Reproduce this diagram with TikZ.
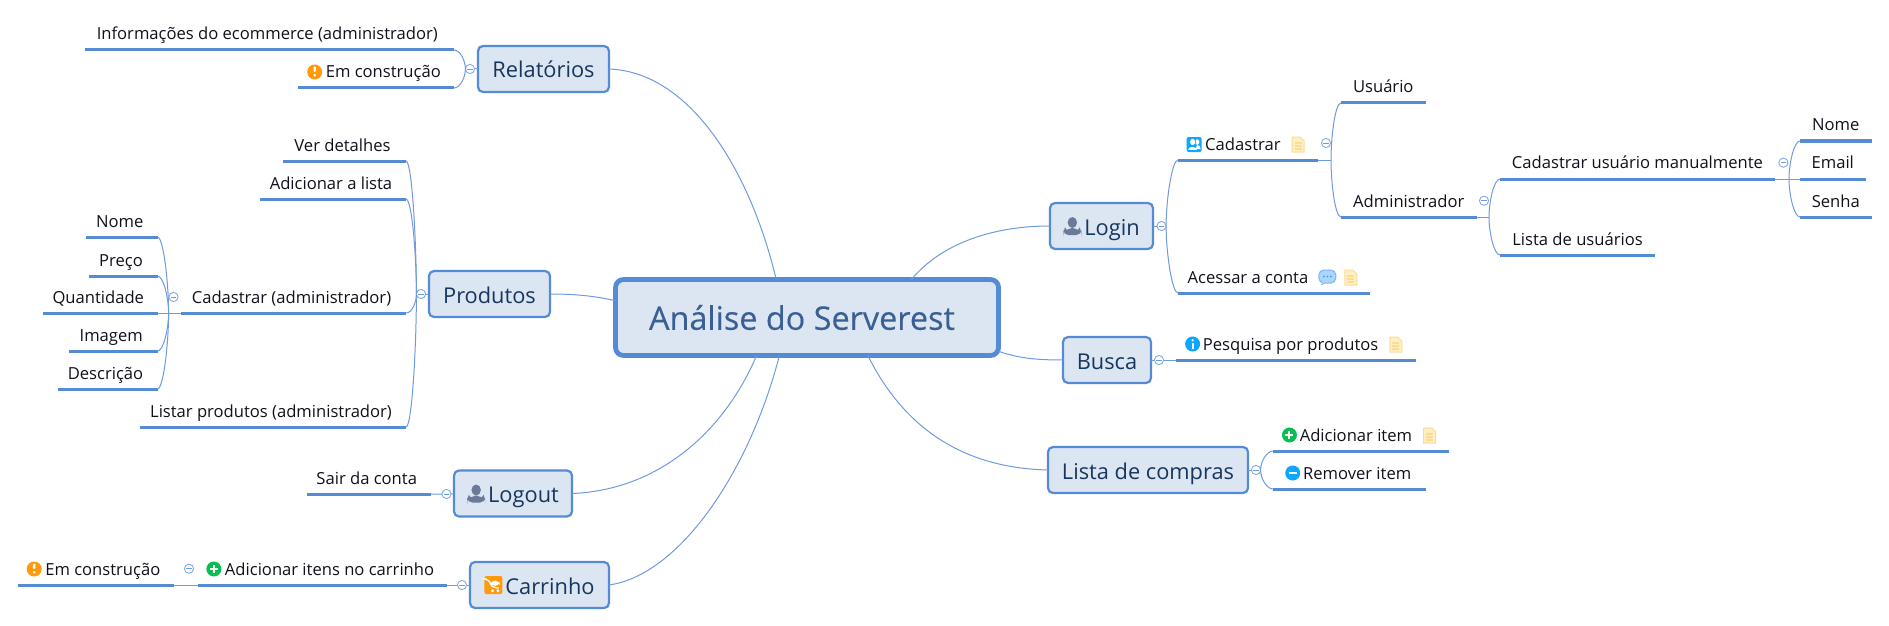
\documentclass[tikz,border=0pt]{standalone}
\usepackage{fontspec}
\setmainfont{Open Sans}
\newfontfamily\rootfont[FakeBold=0.3]{Open Sans}
\usetikzlibrary{positioning}

\definecolor{linecol}{HTML}{558AD5}
\definecolor{thincol}{HTML}{6F9ADE}
\definecolor{fillcol}{HTML}{DCE6F2}
\definecolor{roottext}{HTML}{3A5F95}
\definecolor{maintext}{HTML}{17365D}
\definecolor{leaftext}{HTML}{10101C}
\definecolor{personcol}{HTML}{6B7A99}
\definecolor{warncol}{HTML}{FF9A0A}
\definecolor{pluscol}{HTML}{08BE50}
\definecolor{bluecol}{HTML}{0CA8FF}
\definecolor{notefill}{HTML}{FFF0C4}
\definecolor{notedraw}{HTML}{FBDC94}
\definecolor{talkfill}{HTML}{AAD6FC}
\definecolor{talkdraw}{HTML}{78B6F4}
\definecolor{talkdots}{HTML}{3F9CF6}

% little pictures that stand inside the texts, drawn in pixels
\newcommand{\warnicon}{\tikz[x=.5pt,y=.5pt,baseline=0pt]{\fill[warncol] (7.5,6) circle (7.5);
  \fill[white,rounded corners=.5pt] (6.3,6) rectangle (8.7,11.5); \fill[white] (7.5,2.8) circle (1.4);}}
\newcommand{\plusicon}{\tikz[x=.5pt,y=.5pt,baseline=0pt]{\fill[pluscol] (7.5,6) circle (7.5);
  \fill[white] (3.5,5) rectangle (11.5,7); \fill[white] (6.5,2) rectangle (8.5,10);}}
\newcommand{\minusicon}{\tikz[x=.5pt,y=.5pt,baseline=0pt]{\fill[bluecol] (7.5,6) circle (7.5);
  \fill[white] (3.5,5) rectangle (11.5,7);}}
\newcommand{\infoicon}{\tikz[x=.5pt,y=.5pt,baseline=0pt]{\fill[bluecol] (7.5,6) circle (7.5);
  \fill[white] (6.5,1.5) rectangle (8.5,7.5); \fill[white] (7.5,9.7) circle (1.3);}}
\newcommand{\noteicon}{\tikz[x=.5pt,y=.5pt,baseline=0pt]{\filldraw[fill=notefill,draw=notedraw,line width=.5pt] (0,-2) -- (12,-2) -- (12,9) -- (8,13) -- (0,13) -- cycle;
  \foreach \ly in {1,4,7}{\draw[notedraw,line width=.7pt] (2.5,\ly) -- (9.5,\ly);}}}
\newcommand{\talkicon}{\tikz[x=.5pt,y=.5pt,baseline=0pt]{\fill[talkdraw] (3,2) -- (2.5,-2.5) -- (8,1) -- cycle;
  \filldraw[fill=talkfill,draw=talkdraw,line width=.5pt,rounded corners=2.5pt] (0,0) rectangle (17,13);
  \fill[talkfill] (3.5,1) -- (3.3,-1) -- (6.5,1) -- cycle;
  \foreach \lx in {5,8.5,12}{\fill[talkdots] (\lx,6.5) circle (1);}}}
\newcommand{\cardicon}{\tikz[x=.5pt,y=.5pt,baseline=0pt]{\fill[bluecol,rounded corners=1pt] (0,-2) rectangle (15,13);
  \fill[white] (10.5,8) ellipse (2.2 and 2.8); \fill[white] (9,1) -- (14,1) .. controls (14,4) and (12.5,4.8) .. (10.5,5) -- cycle;
  \fill[bluecol] (6,8) ellipse (3.3 and 3.9);
  \fill[white] (6,8) ellipse (2.5 and 3.1); \fill[bluecol] (1,-.5) rectangle (11,.5);
  \fill[white] (1.5,.5) .. controls (1.5,4.5) and (10.5,4.5) .. (10.5,.5) -- cycle;}}
\newcommand{\personicon}{\tikz[x=.5pt,y=.5pt,baseline=0pt]{\fill[personcol] (9,12.5) ellipse (4.7 and 5.5);
  \fill[personcol] (0,0) -- (0,3) .. controls (1,6) and (5,6) .. (7,7) -- (11,7) .. controls (13,6) and (17,6) .. (18,3) -- (18,0) -- cycle;}}
\newcommand{\carticon}{\tikz[x=.5pt,y=.5pt,baseline=0pt]{\fill[warncol,rounded corners=1pt] (0,0) rectangle (18,18);
  \draw[white,line width=.6pt] (2.5,15) -- (5,15) -- (7,6) -- (14.5,6);
  \fill[white] (5.5,13.5) -- (16,13.5) -- (14.5,7.8) -- (6.8,7.8) -- cycle;
  \fill[white] (8,3.2) circle (1.6); \fill[white] (13.5,3.2) circle (1.6);}}

\begin{document}
\begin{tikzpicture}[x=0.5pt,y=-0.5pt,
    root_node/.style={rectangle,draw=linecol,fill=fillcol,line width=2.4pt,rounded corners=4pt,outer sep=0pt,
        minimum width=191.5pt,minimum height=38pt,inner sep=0pt,text=roottext,font=\rootfont\fontsize{16.2pt}{18pt}\selectfont},
    main_node/.style={rectangle,draw=linecol,fill=fillcol,line width=1.1pt,rounded corners=2.5pt,outer sep=0pt,
        minimum width=#1*0.5pt,minimum height=23pt,inner sep=0pt,text height=9pt,text depth=0pt,
        text=maintext,font=\fontsize{10.9pt}{12pt}\selectfont},
    leaf_node/.style={inner sep=0pt,outer sep=0pt,minimum width=#1*0.5pt,text height=7pt,text depth=5pt,
        text=leaftext,font=\fontsize{8.3pt}{10pt}\selectfont,
        append after command={(\tikzlastnode.south west) edge[leaf_line] (\tikzlastnode.south east)}},
    left_leaf/.style={leaf_node=#1,anchor=south east,execute at end node=\hspace*{2pt}},
    right_leaf/.style={leaf_node=#1,anchor=south west},
    leaf_line/.style={draw=linecol,line width=1.5pt},
    thin_line/.style={draw=thincol,line width=0.5pt},
    fold_node/.style={circle,draw=thincol!85!white,fill=white,line width=0.45pt,minimum size=4.6pt,inner sep=0pt,outer sep=0pt,
        path picture={\draw[thincol,line width=0.45pt] ([xshift=-1.4pt]path picture bounding box.center) -- ([xshift=1.4pt]path picture bounding box.center);}},
    to_up/.style={out=#1,in=-90,out distance=3pt},
    to_down/.style={out=#1,in=90,out distance=3pt}]
    \useasboundingbox (0,0) rectangle (1889,626);

    % centre and the big boxes
    \node[root_node] (root) at (807,317.5) {Análise do Serverest\hspace*{5pt}};
    \node[main_node=131] (rel) at (543.5,69) {Relatórios};
    \node[main_node=121] (prod) at (489.5,294) {Produtos};
    \node[main_node=118] (logout) at (513,493.5) {\personicon\hspace{1.5pt}Logout};
    \node[main_node=139] (cart) at (539.5,585) {\carticon\hspace{1.5pt}Carrinho};
    \node[main_node=103] (login) at (1101.5,226) {\personicon\hspace{1.5pt}Login};
    \node[main_node=88] (busca) at (1107,360) {Busca};
    \node[main_node=200] (lista) at (1148,470) {Lista de compras};

    \draw[thin_line] (rel.east) .. controls (690,72) and (750,170) .. (root.129);
    \draw[thin_line] (prod.east) .. controls (575,294) and (595,296) .. (root.175);
    \draw[thin_line] (logout.east) .. controls (660,490) and (725,430) .. (root.217);
    \draw[thin_line] (cart.east) .. controls (680,575) and (750,470) .. (root.234);
    \draw[thin_line] (login.west) .. controls (990,226) and (940,245) .. (root.20);
    \draw[thin_line] (busca.west) .. controls (1035,360) and (1018,358) .. (root.-10);
    \draw[thin_line] (lista.west) .. controls (965,468) and (905,430) .. (root.-32);

    % left side
    \node[left_leaf=369.5] (rel_info) at (454,50) {Informações do ecommerce (administrador)};
    \node[left_leaf=156] (rel_obra) at (454,88) {\warnicon\hspace{1.8pt}Em construção};
    \node[fold_node] (fold_rel) at (470,69) {};
    \draw[thin_line] (fold_rel) -- (rel);
    \draw[thin_line] (rel_info.south east) to[to_down=0] (fold_rel.west);
    \draw[thin_line] (rel_obra.south east) to[to_up=0] (fold_rel.west);

    \node[left_leaf=123] (prod_ver) at (406,161) {Ver detalhes};
    \node[left_leaf=146] (prod_add) at (406,199) {Adicionar a lista};
    \node[left_leaf=225] (prod_cad) at (406,313) {Cadastrar (administrador)};
    \node[left_leaf=266] (prod_list) at (406,427) {Listar produtos (administrador)};
    \node[fold_node] (fold_prod) at (421,294) {};
    \draw[thin_line] (fold_prod) -- (prod);
    \draw[thin_line] (prod_ver.south east) to[to_down=0] (fold_prod.west);
    \draw[thin_line] (prod_add.south east) to[to_down=0] (fold_prod.west);
    \draw[thin_line] (prod_cad.south east) to[to_up=0] (fold_prod.west);
    \draw[thin_line] (prod_list.south east) to[to_up=0] (fold_prod.west);

    \node[left_leaf=71.5] (cad_nome) at (157.5,237) {Nome};
    \node[left_leaf=69] (cad_preco) at (157.5,276) {Preço};
    \node[left_leaf=114.5] (cad_qtd) at (157.5,313) {Quantidade};
    \node[left_leaf=88.5] (cad_img) at (157.5,351) {Imagem};
    \node[left_leaf=100] (cad_desc) at (157.5,389) {Descrição};
    \node[fold_node] (fold_cad) at (173.5,297) {};
    \coordinate (hub_cad) at (168.6,313);
    \draw[thin_line] (cad_qtd.south east) -- (prod_cad.south west);
    \draw[thin_line] (cad_nome.south east) to[to_down=0] (hub_cad);
    \draw[thin_line] (cad_preco.south east) to[to_down=0] (hub_cad);
    \draw[thin_line] (cad_img.south east) to[to_up=0] (hub_cad);
    \draw[thin_line] (cad_desc.south east) to[to_up=0] (hub_cad);

    \node[left_leaf=123.5] (sair) at (430.5,494) {Sair da conta};
    \node[fold_node] (fold_logout) at (446.5,494) {};
    \draw[thin_line] (sair.south east) -- (fold_logout) -- (logout);

    \node[left_leaf=249.5] (cart_add) at (447,585) {\plusicon\hspace{1.8pt}Adicionar itens no carrinho};
    \node[left_leaf=156] (cart_obra) at (173.5,585) {\warnicon\hspace{1.8pt}Em construção};
    \node[fold_node] (fold_cart) at (462,585) {};
    \node[fold_node] (fold_add) at (189,568.7) {};
    \draw[thin_line] (cart_add.south east) -- (fold_cart) -- (cart);
    \draw[thin_line] (cart_obra.south east) -- (cart_add.south west);

    % right side
    \node[right_leaf=140] (log_cad) at (1178,160) {\cardicon\hspace{1.8pt}Cadastrar\hspace{5.5pt}\noteicon\hspace*{2.4pt}};
    \node[right_leaf=192] (log_ace) at (1178,293) {Acessar a conta\hspace{5pt}\talkicon\hspace{4pt}\noteicon\hspace*{1.5pt}};
    \node[fold_node] (fold_login) at (1161.5,226) {};
    \draw[thin_line] (fold_login) -- (login);
    \draw[thin_line] (log_cad.south west) to[to_down=180] (fold_login.east);
    \draw[thin_line] (log_ace.south west) to[to_up=180] (fold_login.east);

    \node[right_leaf=84.5] (usuario) at (1341,103) {Usuário};
    \node[right_leaf=135.5] (admin) at (1341,217) {Administrador};
    \node[fold_node] (fold_cad2) at (1326,143) {};
    \coordinate (hub_cad2) at (1331,160);
    \draw[thin_line] (log_cad.south east) -- (hub_cad2);
    \draw[thin_line] (usuario.south west) to[to_down=180] (hub_cad2);
    \draw[thin_line] (admin.south west) to[to_up=180] (hub_cad2);

    \node[right_leaf=275] (manual) at (1500,179) {Cadastrar usuário manualmente};
    \node[right_leaf=155] (usuarios) at (1500,255) {Lista de usuários};
    \node[fold_node] (fold_adm) at (1484,200.7) {};
    \coordinate (hub_adm) at (1489,217);
    \draw[thin_line] (admin.south east) -- (hub_adm);
    \draw[thin_line] (manual.south west) to[to_down=180] (hub_adm);
    \draw[thin_line] (usuarios.south west) to[to_up=180] (hub_adm);

    \node[right_leaf=71.5] (man_nome) at (1800,141) {Nome};
    \node[right_leaf=65.5] (man_mail) at (1800,179) {Email};
    \node[right_leaf=71.5] (man_senha) at (1800,217) {Senha};
    \node[fold_node] (fold_man) at (1783.4,162.7) {};
    \coordinate (hub_man) at (1789,179);
    \draw[thin_line] (manual.south east) -- (man_mail.south west);
    \draw[thin_line] (man_nome.south west) to[to_down=180] (hub_man);
    \draw[thin_line] (man_senha.south west) to[to_up=180] (hub_man);

    \node[right_leaf=240] (pesquisa) at (1175.7,360) {\infoicon\hspace{1.4pt}Pesquisa por produtos\hspace{5.5pt}\noteicon\hspace*{2pt}};
    \node[fold_node] (fold_busca) at (1159,360) {};
    \draw[thin_line] (busca) -- (fold_busca) -- (pesquisa.south west);

    \node[right_leaf=176] (item_add) at (1273,451) {\plusicon\hspace{1.4pt}Adicionar item\hspace{5.5pt}\noteicon\hspace*{2pt}};
    \node[right_leaf=152.5] (item_rem) at (1273,489) {\minusicon\hspace{1.4pt}Remover item\hspace*{1pt}};
    \node[fold_node] (fold_lista) at (1256,470) {};
    \draw[thin_line] (fold_lista) -- (lista);
    \draw[thin_line] (item_add.south west) to[to_down=180] (fold_lista.east);
    \draw[thin_line] (item_rem.south west) to[to_up=180] (fold_lista.east);

\end{tikzpicture}
\end{document}
